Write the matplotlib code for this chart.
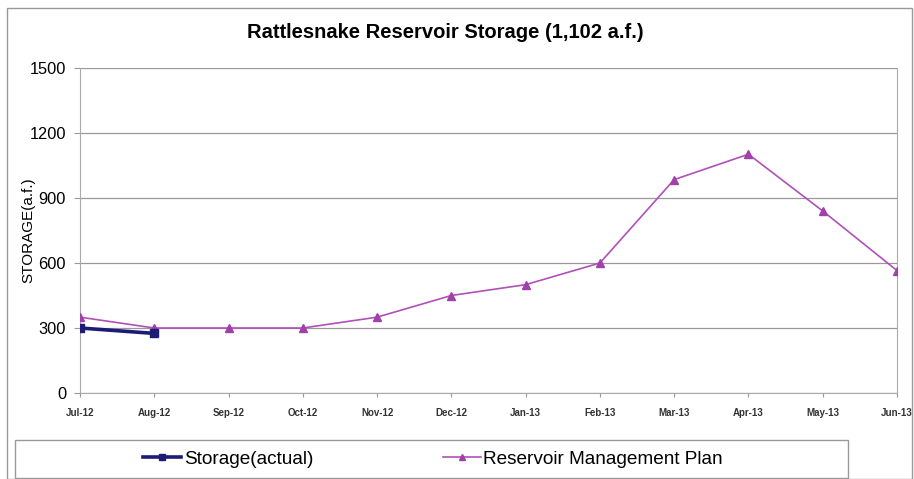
import matplotlib.pyplot as plt
from matplotlib.patches import Rectangle

months = ['Jul-12', 'Aug-12', 'Sep-12', 'Oct-12', 'Nov-12', 'Dec-12',
          'Jan-13', 'Feb-13', 'Mar-13', 'Apr-13', 'May-13', 'Jun-13']
storage_actual = [300, 275]
plan = [350, 300, 300, 300, 350, 450, 500, 600, 985, 1102, 840, 565]
y_ticks = [0, 300, 600, 900, 1200, 1500]

plt.rcParams['font.family'] = ['Liberation Sans', 'DejaVu Sans']

fig = plt.figure(figsize=(9.14, 4.79), dpi=100)
ax = fig.add_axes([80 / 914, 1 - 393 / 479, 817 / 914, 325 / 479])

x = list(range(len(months)))
l1, = ax.plot(x[:len(storage_actual)], storage_actual, color='#1c1c78', lw=2.6,
              marker='s', ms=6, label='Storage(actual)', zorder=4)
l2, = ax.plot(x, plan, color='#b050b8', lw=1.2, marker='^', ms=6,
              markerfacecolor='#a040a8', markeredgecolor='#a040a8',
              label='Reservoir Management Plan', zorder=3)

ax.set_xlim(0, len(months) - 1)
ax.set_ylim(0, 1500)
ax.set_yticks(y_ticks)
ax.set_yticklabels([str(v) for v in y_ticks], fontsize=11.8)
ax.set_xticks(x)
ax.set_xticklabels(months, fontsize=7, fontweight='bold', color='#333333')
ax.tick_params(axis='x', length=3, color='#999999', pad=8)
ax.tick_params(axis='y', length=4, color='#999999', pad=6)
ax.grid(axis='y', color='#999999', lw=0.9)
for side in ['left', 'right', 'bottom']:
    ax.spines[side].set_color('#aaaaaa')
ax.spines['top'].set_visible(False)
ax.set_ylabel('STORAGE(a.f.)', fontsize=11)
ax.yaxis.set_label_coords(-0.055, 0.5)

fig.text(445 / 914, 1 - 32 / 479, 'Rattlesnake Reservoir Storage (1,102 a.f.)',
         ha='center', va='center', fontsize=14.5, fontweight='bold')

# outer frame and legend box
fig.patches.append(Rectangle((7 / 914, 0), 905 / 914, 1 - 8 / 479, transform=fig.transFigure,
                             fill=False, ec='#999999', lw=1))
fig.patches.append(Rectangle((15 / 914, 1 / 479), 833 / 914, 38 / 479, transform=fig.transFigure,
                             fill=False, ec='#999999', lw=1))
leg = fig.legend(handles=[l1, l2], loc='center', bbox_to_anchor=(433 / 914, 1 - 459 / 479),
                 ncol=2, frameon=False, fontsize=13.7, columnspacing=6.8, handlelength=2.0,
                 handletextpad=0.15, markerscale=0.8)

fig.savefig('out.png', dpi=100)
